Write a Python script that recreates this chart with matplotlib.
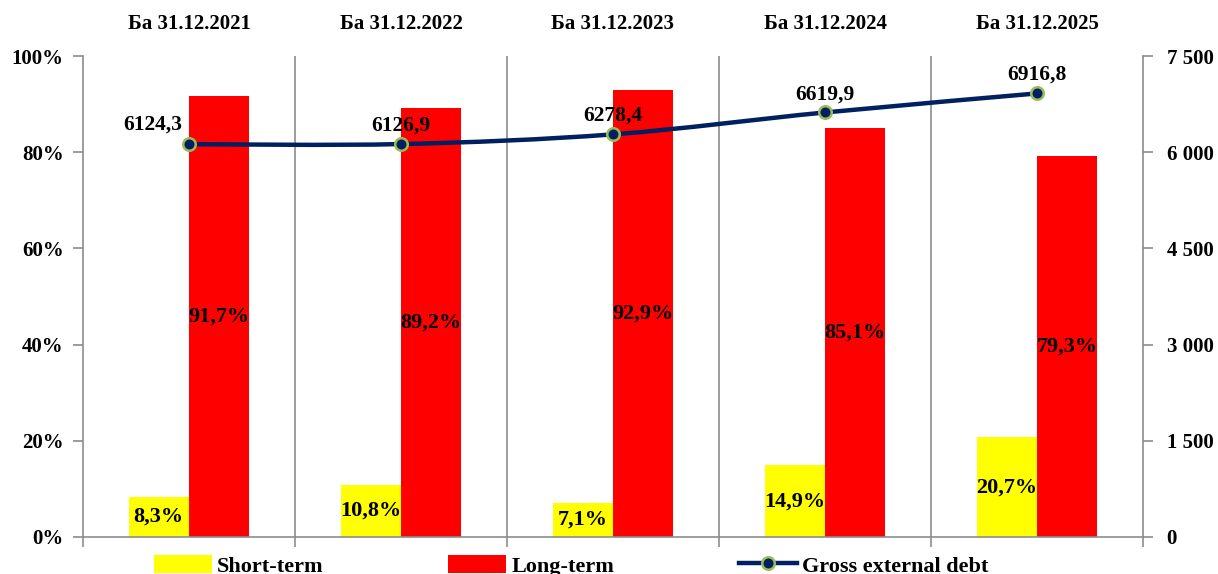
import matplotlib
matplotlib.use("Agg")
import matplotlib.pyplot as plt
import numpy as np
from matplotlib.lines import Line2D
from matplotlib.patches import Patch, PathPatch
from matplotlib.path import Path
from matplotlib.ticker import FuncFormatter, PercentFormatter

plt.rcParams["font.family"] = ["Liberation Serif", "DejaVu Serif"]
plt.rcParams["font.weight"] = "bold"

# данные
categories = ["Ба 31.12.2021", "Ба 31.12.2022", "Ба 31.12.2023", "Ба 31.12.2024", "Ба 31.12.2025"]
short_term = [8.3, 10.8, 7.1, 14.9, 20.7]
long_term = [91.7, 89.2, 92.9, 85.1, 79.3]
gross_debt = [6124.3, 6126.9, 6278.4, 6619.9, 6916.8]

YELLOW = "#ffff00"
RED = "#ff0000"
NAVY = "#002060"
GRID = "#8c8c8c"


def fmt_comma(v, nd=1):
    return f"{v:.{nd}f}".replace(".", ",")


def smooth_path(xs, ys, t=1 / 6):
    """Кривая Безье через точки (как сглаженная линия в Excel)."""
    xs = np.asarray(xs, float)
    ys = np.asarray(ys, float)
    pts = np.column_stack([xs, ys])
    verts = [pts[0]]
    codes = [Path.MOVETO]
    n = len(pts)
    for i in range(n - 1):
        p0 = pts[i - 1] if i > 0 else pts[i]
        p1, p2 = pts[i], pts[i + 1]
        p3 = pts[i + 2] if i + 2 < n else pts[i + 1]
        c1 = p1 + (p2 - p0) * t
        c2 = p2 - (p3 - p1) * t
        verts += [c1, c2, p2]
        codes += [Path.CURVE4] * 3
    return Path(verts, codes)


fig = plt.figure(figsize=(12.18, 5.74), dpi=100)
ax = fig.add_axes([0.0681, 0.0645, 0.8703, 0.8379])

x = np.arange(len(categories)) + 0.5
w = 0.285
b1 = ax.bar(x - w / 2, short_term, w, color=YELLOW, zorder=2)
b2 = ax.bar(x + w / 2, long_term, w, color=RED, zorder=2)

for rect, v in zip(b1, short_term):
    ax.text(rect.get_x() + rect.get_width() / 2, v / 2, fmt_comma(v) + "%",
            ha="center", va="center", fontsize=16, fontweight="bold", zorder=5)
for rect, v in zip(b2, long_term):
    ax.text(rect.get_x() + rect.get_width() / 2, v / 2, fmt_comma(v) + "%",
            ha="center", va="center", fontsize=16, fontweight="bold", zorder=5)

ax.set_xlim(0, len(categories))
ax.set_ylim(0, 100)
ax.set_yticks(np.arange(0, 101, 20))
ax.yaxis.set_major_formatter(PercentFormatter(decimals=0))
ax.set_xticks(np.arange(len(categories) + 1))
ax.set_xticklabels([])
for xb in range(1, len(categories)):
    ax.axvline(xb, color=GRID, lw=1.2, zorder=1)

for s in ["top", "right"]:
    ax.spines[s].set_visible(False)
for s in ["left", "bottom"]:
    ax.spines[s].set_color(GRID)
    ax.spines[s].set_linewidth(1.2)
ax.tick_params(axis="both", colors=GRID, width=1.2, length=7, direction="out")
ax.tick_params(axis="y", labelcolor="black", labelsize=15, pad=7)

top = ax.secondary_xaxis("top")
top.set_xticks(x)
top.set_xticklabels(categories, fontsize=15, fontweight="bold")
top.tick_params(length=0, pad=16)
top.spines["top"].set_visible(False)

ax2 = ax.twinx()
ax2.set_ylim(0, 7500)
ax2.set_yticks(np.arange(0, 7501, 1500))
ax2.yaxis.set_major_formatter(FuncFormatter(lambda v, p: f"{int(v):,}".replace(",", " ")))
for s in ["top", "left", "bottom"]:
    ax2.spines[s].set_visible(False)
ax2.spines["right"].set_color(GRID)
ax2.spines["right"].set_linewidth(1.2)
ax2.tick_params(axis="y", colors=GRID, width=1.2, length=7, labelcolor="black",
                labelsize=15, pad=10)

ax2.add_patch(PathPatch(smooth_path(x, gross_debt), fill=False, edgecolor=NAVY,
                        lw=3.2, capstyle="round", zorder=3))
ax2.plot(x, gross_debt, ls="none", marker="o", ms=9, mfc=NAVY, mec="#9bbb59",
         mew=1.8, zorder=4)

for i, (xi, v) in enumerate(zip(x, gross_debt)):
    if i == 0:
        ax2.annotate(fmt_comma(v), (xi, v), xytext=(-5, 7), textcoords="offset points",
                     ha="right", va="bottom", fontsize=15.5, fontweight="bold")
    else:
        ax2.annotate(fmt_comma(v), (xi, v), xytext=(0, 6), textcoords="offset points",
                     ha="center", va="bottom", fontsize=15.5, fontweight="bold")

handles = [
    Patch(facecolor=YELLOW),
    Patch(facecolor=RED),
    Line2D([0], [0], color=NAVY, lw=3.2, marker="o", ms=9, mfc=NAVY, mec="#9bbb59", mew=1.8),
]
fig.legend(handles, ["Short-term", "Long-term", "Gross external debt"],
           loc="center", bbox_to_anchor=(0.469, 0.014), ncol=3, frameon=False,
           fontsize=16, handlelength=2.6, handleheight=0.9, handletextpad=0.25,
           columnspacing=5.6)

fig.savefig("out.png", dpi=100)
